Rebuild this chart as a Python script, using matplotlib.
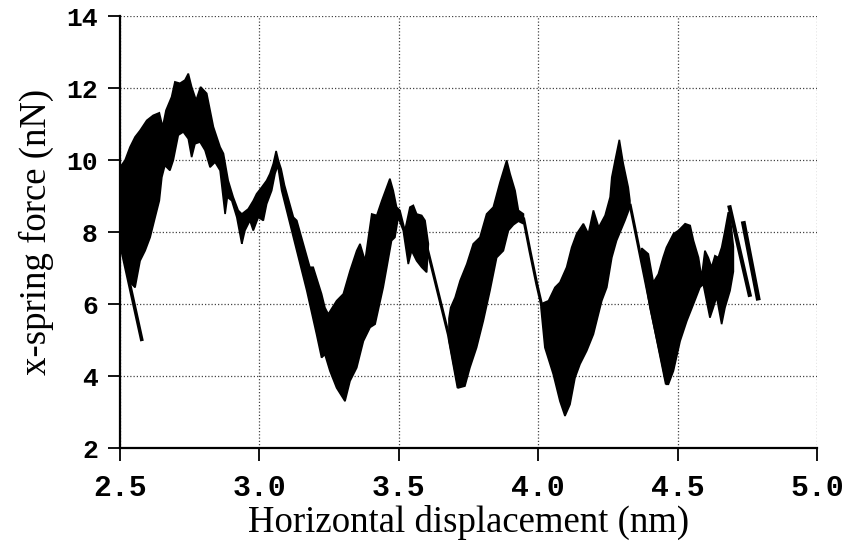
import numpy as np
import matplotlib
matplotlib.use("Agg")
import matplotlib.pyplot as plt

# ---------------- data ----------------
x_ticks = [2.5, 3.0, 3.5, 4.0, 4.5, 5.0]
x_tick_labels = ["2.5", "3.0", "3.5", "4.0", "4.5", "5.0"]
y_ticks = [2, 4, 6, 8, 10, 12, 14]
y_tick_labels = ["2", "4", "6", "8", "10", "12", "14"]

# Band 1 (2.50 - 2.94): upper / lower envelope of the dense oscillation
band1_xu = [2.500, 2.518, 2.536, 2.554, 2.572, 2.596, 2.619, 2.641, 2.653, 2.665,
            2.685, 2.697, 2.715, 2.733, 2.745, 2.757, 2.773, 2.789, 2.811, 2.835,
            2.859, 2.871, 2.888, 2.906, 2.924, 2.937]
band1_yu = [9.80, 9.99, 10.36, 10.64, 10.82, 11.10, 11.24, 11.31, 10.92, 11.38,
            11.75, 12.17, 12.13, 12.22, 12.40, 12.03, 11.66, 12.03, 11.85, 10.92,
            10.36, 10.18, 9.43, 8.97, 8.60, 8.50]
band1_xl = [2.500, 2.536, 2.554, 2.572, 2.590, 2.608, 2.626, 2.641, 2.650, 2.661,
            2.679, 2.691, 2.709, 2.727, 2.745, 2.757, 2.769, 2.787, 2.805, 2.823,
            2.841, 2.859, 2.877, 2.885, 2.901, 2.919, 2.937]
band1_yl = [7.76, 6.60, 6.46, 7.20, 7.48, 7.85, 8.41, 8.87, 9.52, 9.85,
            9.71, 9.99, 10.69, 10.78, 10.59, 10.08, 10.45, 10.50, 10.27, 9.80,
            9.94, 9.71, 8.50, 8.97, 8.87, 8.41, 7.67]

# Band 2 + slip + band 3 (2.94 - 3.61)
band2_xu = [2.937, 2.960, 2.978, 2.990, 3.008, 3.026, 3.038, 3.050, 3.060, 3.068,
            3.078, 3.090, 3.122, 3.134, 3.160, 3.181, 3.193, 3.223, 3.235, 3.247,
            3.277, 3.301, 3.325, 3.349, 3.361, 3.379, 3.403, 3.421, 3.439, 3.468,
            3.480, 3.492, 3.504, 3.522, 3.540, 3.552, 3.564, 3.582, 3.594, 3.606]
band2_yu = [8.50, 8.64, 8.87, 9.06, 9.24, 9.43, 9.62, 9.90, 10.25, 9.99,
            9.75, 9.30, 8.41, 8.32, 7.60, 7.02, 7.02, 6.28, 5.90, 5.72,
            6.09, 6.28, 6.92, 7.48, 7.67, 7.20, 8.50, 8.46, 8.87, 9.48,
            9.15, 8.69, 8.60, 8.04, 8.69, 8.74, 8.50, 8.46, 8.32, 7.67]
band2_xl = [2.937, 2.948, 2.966, 2.978, 2.996, 3.014, 3.026, 3.044, 3.056, 3.066,
            3.080, 3.122, 3.170, 3.205, 3.223, 3.235, 3.253, 3.277, 3.307, 3.325,
            3.349, 3.373, 3.397, 3.415, 3.444, 3.457, 3.474, 3.486, 3.498, 3.516,
            3.534, 3.546, 3.564, 3.582, 3.600]
band2_yl = [7.67, 8.04, 8.32, 8.04, 8.41, 8.32, 8.78, 9.15, 9.62, 9.85,
            9.15, 7.85, 6.37, 5.16, 4.51, 4.60, 4.14, 3.67, 3.30, 3.86,
            4.23, 4.97, 5.35, 5.44, 6.46, 7.02, 7.76, 7.85, 8.41, 8.04,
            7.11, 7.48, 7.20, 7.02, 6.88]

# Band 4 (3.68 - 3.95)
band4_xu = [3.680, 3.686, 3.702, 3.720, 3.744, 3.767, 3.791, 3.815, 3.839, 3.863,
            3.887, 3.899, 3.917, 3.929, 3.947]
band4_yu = [5.60, 5.90, 6.18, 6.65, 7.11, 7.67, 7.85, 8.50, 8.69, 9.38,
            9.99, 9.62, 9.15, 8.60, 8.50]
band4_xl = [3.680, 3.713, 3.737, 3.755, 3.779, 3.803, 3.827, 3.851, 3.875, 3.893,
            3.911, 3.929, 3.947]
band4_yl = [5.00, 3.67, 3.72, 4.23, 4.79, 5.53, 6.37, 7.29, 7.48, 8.04,
            8.20, 8.30, 8.23]

# Band 5 (4.01 - 4.33)
band5_xu = [4.010, 4.037, 4.060, 4.078, 4.102, 4.120, 4.138, 4.162, 4.180, 4.198,
            4.217, 4.240, 4.258, 4.264, 4.276, 4.291, 4.305, 4.323, 4.329]
band5_yu = [6.00, 6.09, 6.46, 6.60, 7.02, 7.57, 7.95, 8.23, 7.95, 8.60,
            8.13, 8.46, 8.97, 9.52, 9.99, 10.56, 9.90, 9.24, 8.87]
band5_xl = [4.010, 4.024, 4.054, 4.078, 4.096, 4.114, 4.132, 4.150, 4.174, 4.198,
            4.216, 4.228, 4.246, 4.264, 4.281, 4.311, 4.329]
band5_yl = [5.90, 4.79, 4.05, 3.30, 2.89, 3.21, 3.95, 4.33, 4.70, 5.16,
            5.72, 6.09, 6.46, 7.29, 7.76, 8.32, 8.69]

# Band 6 (4.37 - 4.70)
band6_xu = [4.371, 4.395, 4.413, 4.431, 4.448, 4.460, 4.485, 4.503, 4.527, 4.545,
            4.557, 4.575, 4.586, 4.598, 4.610, 4.622, 4.634, 4.646, 4.658, 4.670,
            4.682, 4.690, 4.700]
band6_yu = [7.55, 7.39, 6.60, 6.83, 7.29, 7.57, 7.95, 8.04, 8.23, 8.18,
            7.76, 7.29, 6.74, 7.48, 7.29, 7.02, 7.34, 7.29, 7.57, 8.04,
            8.55, 8.30, 7.60]
band6_xl = [4.371, 4.401, 4.437, 4.460, 4.467, 4.485, 4.509, 4.533, 4.557, 4.580,
            4.592, 4.616, 4.628, 4.640, 4.658, 4.670, 4.688, 4.700]
band6_yl = [7.30, 5.90, 4.60, 3.77, 3.77, 4.14, 4.97, 5.53, 6.00, 6.46,
            6.55, 5.62, 5.90, 6.20, 5.44, 5.90, 6.37, 6.90]

# Thin slip lines (force drops)
slip0_x = [2.500, 2.579]
slip0_y = [7.76, 4.97]
slip1_x = [3.600, 3.678, 3.713]
slip1_y = [7.60, 5.15, 3.67]
slip2_x = [3.947, 3.971, 3.995, 4.013]
slip2_y = [8.40, 7.45, 6.55, 5.95]
slip3_x = [4.329, 4.460]
slip3_y = [8.78, 3.77]
strip1_x = [4.685, 4.760]
strip1_y = [8.74, 6.20]
strip2_x = [4.735, 4.790]
strip2_y = [8.30, 6.10]

bands = [
    (band1_xu, band1_yu, band1_xl, band1_yl),
    (band2_xu, band2_yu, band2_xl, band2_yl),
    (band4_xu, band4_yu, band4_xl, band4_yl),
    (band5_xu, band5_yu, band5_xl, band5_yl),
    (band6_xu, band6_yu, band6_xl, band6_yl),
]
slips = [(slip0_x, slip0_y, 2.6), (slip1_x, slip1_y, 2.2), (slip2_x, slip2_y, 2.2),
         (slip3_x, slip3_y, 2.2), (strip1_x, strip1_y, 3.0), (strip2_x, strip2_y, 3.4)]

# ---------------- figure ----------------
fig = plt.figure(figsize=(8.43, 5.47), dpi=100)
ax = fig.add_axes([120 / 843, 1 - 448 / 547, 697 / 843, 432 / 547])

for xu, yu, xl, yl in bands:
    px = np.concatenate([xu, xl[::-1]])
    py = np.concatenate([yu, yl[::-1]])
    ax.fill(px, py, facecolor="black", edgecolor="black", linewidth=1.2,
            joinstyle="miter", zorder=3)

for sx, sy, lw in slips:
    ax.plot(sx, sy, color="black", linewidth=lw, solid_capstyle="butt", zorder=3)

ax.set_xlim(2.5, 5.0)
ax.set_ylim(2, 14)
ax.set_xticks(x_ticks)
ax.set_xticklabels(x_tick_labels)
ax.set_yticks(y_ticks)
ax.set_yticklabels(y_tick_labels)

for lab in ax.get_xticklabels():
    lab.set_fontfamily("Liberation Mono")
    lab.set_fontweight("bold")
    lab.set_fontsize(21.5)
for lab in ax.get_yticklabels():
    lab.set_fontfamily("Liberation Mono")
    lab.set_fontweight("bold")
    lab.set_fontsize(19)

ax.tick_params(axis="both", direction="out", length=9, width=1.3, color="black")
ax.tick_params(axis="x", pad=10)
ax.tick_params(axis="y", pad=7)

for side in ["top", "right"]:
    ax.spines[side].set_visible(False)
for side in ["left", "bottom"]:
    ax.spines[side].set_linewidth(1.6)

ax.grid(True, linestyle=(0, (1, 1.6)), color="#444444", linewidth=0.9, zorder=1)
ax.set_axisbelow(True)

label_font = dict(family="Liberation Serif", size=26.5)
ax.set_xlabel("Horizontal displacement (nm)", fontdict=label_font, labelpad=2)
ax.set_ylabel("x-spring force (nN)", fontdict=label_font, labelpad=9)

fig.savefig("out.png", dpi=100)
